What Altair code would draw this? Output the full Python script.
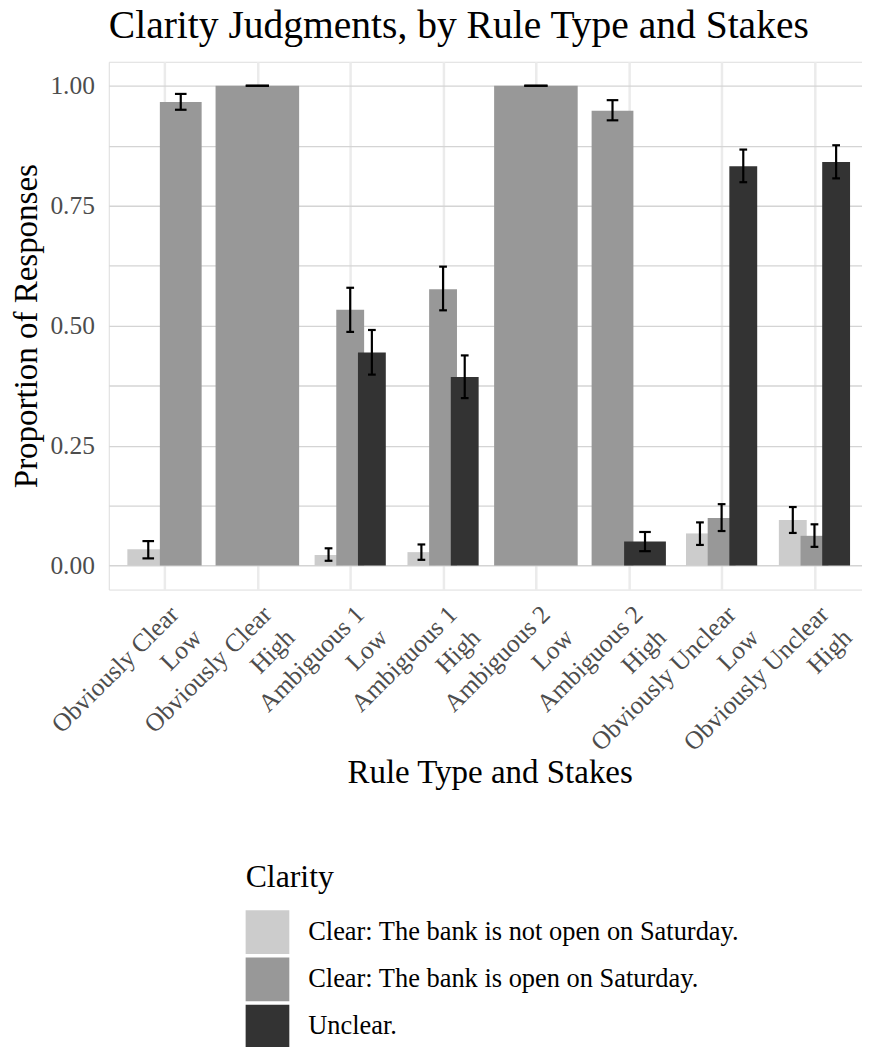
import json
import altair as alt
import pandas as pd

# ---- data ----
rule_types = ["Obviously Clear", "Obviously Clear", "Ambiguous 1", "Ambiguous 1",
              "Ambiguous 2", "Ambiguous 2", "Obviously Unclear", "Obviously Unclear"]
stakes = ["Low", "High", "Low", "High", "Low", "High", "Low", "High"]
levels = ["Clear: The bank is not open on Saturday.",
          "Clear: The bank is open on Saturday.",
          "Unclear."]
fills = ["#CCCCCC", "#989898", "#333333"]

not_open = [0.034, None, 0.022, 0.028, None, None, 0.067, 0.095]
not_open_lo = [0.015, None, 0.010, 0.012, None, None, 0.043, 0.068]
not_open_hi = [0.051, None, 0.036, 0.044, None, None, 0.090, 0.122]

is_open = [0.966, 1.000, 0.533, 0.576, 1.000, 0.948, 0.099, 0.062]
is_open_lo = [0.950, 1.000, 0.487, 0.532, 1.000, 0.928, 0.072, 0.039]
is_open_hi = [0.983, 1.000, 0.579, 0.623, 1.000, 0.970, 0.128, 0.086]

unclear = [None, None, 0.444, 0.393, None, 0.050, 0.832, 0.841]
unclear_lo = [None, None, 0.398, 0.349, None, 0.030, 0.799, 0.807]
unclear_hi = [None, None, 0.491, 0.438, None, 0.070, 0.867, 0.876]

series = [(levels[0], not_open, not_open_lo, not_open_hi),
          (levels[1], is_open, is_open_lo, is_open_hi),
          (levels[2], unclear, unclear_lo, unclear_hi)]

# ---- dodge (ggplot: bar width 0.9, dodge width 0.7, errorbar width 0.25) ----
rows = []
for i in range(len(rule_types)):
    present = [(lv, v[i], lo[i], hi[i]) for lv, v, lo, hi in series if v[i] is not None]
    n = len(present)
    for k, (lv, v, lo, hi) in enumerate(present):
        c = (i + 1) + (k - (n - 1) / 2) * 0.7 / n
        rows.append(dict(clarity=lv, value=v, lo=lo, hi=hi,
                         x0=c - 0.45 / n, x1=c + 0.45 / n, xc=c,
                         c0=c - 0.125 / n, c1=c + 0.125 / n))
df = pd.DataFrame(rows)

FONT = "Liberation Serif"
XT = "Rule Type and Stakes"
YT = "Proportion of Responses"

label_pairs = [[r, s] for r, s in zip(rule_types, stakes)]
xscale = alt.Scale(domain=[0.4, 8.512], nice=False, zero=False)
yscale = alt.Scale(domain=[-0.05, 1.05], nice=False, zero=False)

xaxis = alt.Axis(values=list(range(1, 9)), labelExpr=f"{json.dumps(label_pairs)}[datum.value - 1]",
                 labelAngle=-45, labelAlign="right", labelBaseline="top",
                 labelPadding=12, labelOffset=1, labelLineHeight=33,
                 labelFont=FONT, labelFontSize=25.6, labelColor="#4D4D4D",
                 labelLimit=0, labelOverlap=False, labelFlush=False,
                 ticks=False, domain=False, grid=True, gridColor="#EBEBEB", gridWidth=2.5,
                 titleFont=FONT, titleFontSize=33.2, titleFontWeight="normal", titleColor="black",
                 titleX=383.5, titleY=194, titleBaseline="alphabetic", titleAlign="center")

yaxis = alt.Axis(values=[i / 8 for i in range(9)],
                 labelExpr="(datum.value * 4) % 1 == 0 ? format(datum.value, '.2f') : ''",
                 labelFont=FONT, labelFontSize=25.6, labelColor="#4D4D4D", labelPadding=14.5,
                 ticks=False, domain=False, grid=True, gridColor="#D4D4D4", gridWidth=1.3,
                 titleFont=FONT, titleFontSize=33.2, titleFontWeight="normal", titleColor="black",
                 titleAngle=270, titleX=-72.8, titleY=265.75, titleBaseline="alphabetic",
                 titleAlign="center")

legend = alt.Legend(orient="none", legendX=137.8, legendY=806.5, title="Clarity",
                    titleFont=FONT, titleFontSize=32, titleFontWeight="normal", titleColor="black",
                    titlePadding=16, labelFont=FONT, labelFontSize=26.6, labelColor="black",
                    labelOffset=19, labelLimit=0, symbolType="square", symbolSize=1936,
                    symbolStrokeWidth=0, symbolOpacity=1, rowPadding=3.5, padding=0)

base = alt.Chart(df)

bars = base.mark_bar(opacity=1).encode(
    x=alt.X("x0:Q", scale=xscale, axis=xaxis, title=XT),
    x2="x1",
    y=alt.Y("value:Q", scale=yscale, axis=yaxis, title=YT),
    y2=alt.datum(0),
    color=alt.Color("clarity:N", scale=alt.Scale(domain=levels, range=fills), legend=legend),
)

stems = base.mark_rule(color="black", strokeWidth=2.2).encode(
    x=alt.X("xc:Q", title=XT), y=alt.Y("lo:Q", title=YT), y2="hi")
caps_hi = base.mark_rule(color="black", strokeWidth=2.2).encode(
    x=alt.X("c0:Q", title=XT), x2="c1", y=alt.Y("hi:Q", title=YT))
caps_lo = base.mark_rule(color="black", strokeWidth=2.2).encode(
    x=alt.X("c0:Q", title=XT), x2="c1", y=alt.Y("lo:Q", title=YT))

chart = alt.layer(bars, stems, caps_hi, caps_lo).properties(
    width=758.5, height=531.5,
    title=alt.TitleParams("Clarity Judgments, by Rule Type and Stakes", anchor="start",
                          frame="group", font=FONT, fontSize=39.8, fontWeight="normal",
                          color="black", offset=15),
    autosize=alt.AutoSizeParams(type="none"),
    padding={"left": 101.5, "top": 50.5, "right": 0, "bottom": 457},
).configure_view(strokeWidth=0).configure(background="white")

chart.save("out.html", embed_options={"renderer": "svg", "actions": False})
